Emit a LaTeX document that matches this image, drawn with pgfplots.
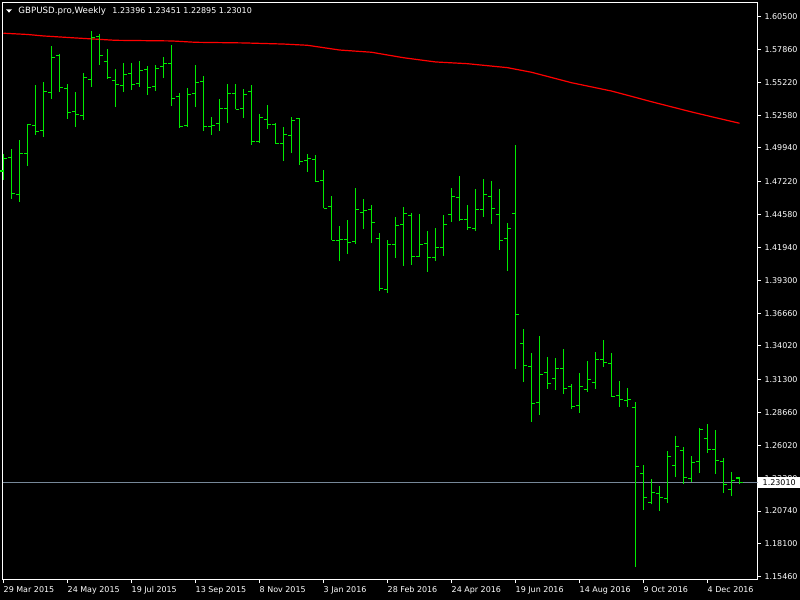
\documentclass[border=0pt]{standalone}
\usepackage{pgfplots}
\pgfplotsset{compat=1.18}
\usepackage{pgfplotstable}
\usepackage{fontspec}
\setmainfont{DejaVu Sans}

\definecolor{barg}{RGB}{0,235,0}
\definecolor{pline}{RGB}{119,136,153}

% open tick (left) and close tick (right) of an OHLC bar
\pgfdeclareplotmark{otick}{\pgfpathmoveto{\pgfpoint{-3.5bp}{0bp}}\pgfpathlineto{\pgfpoint{0bp}{0bp}}\pgfusepathqstroke}
\pgfdeclareplotmark{ctick}{\pgfpathmoveto{\pgfpoint{0bp}{0bp}}\pgfpathlineto{\pgfpoint{3.5bp}{0bp}}\pgfusepathqstroke}

% weekly bars, i = week index from 29 Mar 2015
\pgfplotstableread{
i  O      H      L      C
0  1.4809 1.4943 1.4739 1.4911
1  1.4919 1.4986 1.4586 1.4630
2  1.4622 1.5058 1.4562 1.4951
3  1.4951 1.5187 1.4852 1.5185
4  1.5177 1.5501 1.5101 1.5128
5  1.5136 1.5525 1.5085 1.5450
6  1.5442 1.5814 1.5391 1.5723
7  1.5740 1.5750 1.5447 1.5482
8  1.5474 1.5506 1.5230 1.5281
9  1.5289 1.5444 1.5165 1.5265
10 1.5257 1.5597 1.5222 1.5563
11 1.5547 1.5935 1.5487 1.5884
12 1.5889 1.5911 1.5664 1.5740
13 1.5691 1.5790 1.5551 1.5563
14 1.5539 1.5629 1.5326 1.5506
15 1.5498 1.5678 1.5447 1.5587
16 1.5595 1.5678 1.5463 1.5506
17 1.5514 1.5694 1.5487 1.5619
18 1.5627 1.5654 1.5423 1.5482
19 1.5490 1.5662 1.5455 1.5635
20 1.5651 1.5726 1.5559 1.5675
21 1.5675 1.5822 1.5334 1.5394
22 1.5410 1.5436 1.5157 1.5169
23 1.5177 1.5477 1.5165 1.5426
24 1.5434 1.5662 1.5326 1.5522
25 1.5530 1.5573 1.5133 1.5169
26 1.5169 1.5243 1.5101 1.5177
27 1.5193 1.5388 1.5133 1.5313
28 1.5313 1.5509 1.5198 1.5434
29 1.5434 1.5509 1.5305 1.5305
30 1.5313 1.5469 1.5238 1.5426
31 1.5450 1.5501 1.5021 1.5048
32 1.5048 1.5267 1.5037 1.5241
33 1.5225 1.5340 1.5149 1.5185
34 1.5185 1.5195 1.5029 1.5032
35 1.5032 1.5163 1.4892 1.5104
36 1.5096 1.5243 1.4956 1.5217
37 1.5233 1.5235 1.4860 1.4887
38 1.4895 1.4946 1.4803 1.4911
39 1.4903 1.4938 1.4723 1.4726
40 1.4734 1.4817 1.4509 1.4509
41 1.4525 1.4608 1.4252 1.4252
42 1.4252 1.4367 1.4085 1.4260
43 1.4260 1.4415 1.4144 1.4236
44 1.4244 1.4672 1.4224 1.4501
45 1.4477 1.4584 1.4345 1.4493
46 1.4501 1.4536 1.4232 1.4396
47 1.4268 1.4310 1.3846 1.3866
48 1.3858 1.4254 1.3830 1.4219
49 1.4219 1.4439 1.4112 1.4372
50 1.4380 1.4519 1.4047 1.4469
51 1.4453 1.4471 1.4055 1.4123
52 1.4123 1.4463 1.4120 1.4219
53 1.4228 1.4326 1.3999 1.4115
54 1.4115 1.4351 1.4088 1.4195
55 1.4195 1.4455 1.4128 1.4380
56 1.4461 1.4672 1.4401 1.4606
57 1.4597 1.4769 1.4409 1.4421
58 1.4421 1.4536 1.4337 1.4356
59 1.4348 1.4664 1.4329 1.4501
60 1.4501 1.4745 1.4441 1.4622
61 1.4606 1.4729 1.4385 1.4509
62 1.4461 1.4664 1.4176 1.4252
63 1.4268 1.4391 1.4007 1.4348
64 1.4469 1.5018 1.3219 1.3656
65 1.3423 1.3538 1.3114 1.3246
66 1.3238 1.3345 1.2793 1.2941
67 1.2949 1.3482 1.2849 1.3174
68 1.3190 1.3313 1.3058 1.3102
69 1.3142 1.3305 1.3050 1.3222
70 1.3222 1.3377 1.3018 1.3061
71 1.3077 1.3096 1.2897 1.2916
72 1.2925 1.3184 1.2865 1.3077
73 1.3053 1.3281 1.3034 1.3134
74 1.3110 1.3353 1.3058 1.3295
75 1.3295 1.3450 1.3235 1.3270
76 1.3262 1.3345 1.2994 1.2997
77 1.3005 1.3120 1.2913 1.2973
78 1.2965 1.3064 1.2913 1.2973
79 1.2908 1.2951 1.1626 1.2434
80 1.2378 1.2444 1.2085 1.2185
81 1.2144 1.2332 1.2128 1.2225
82 1.2217 1.2275 1.2077 1.2185
83 1.2176 1.2557 1.2141 1.2514
84 1.2442 1.2678 1.2350 1.2595
85 1.2563 1.2589 1.2294 1.2345
86 1.2337 1.2517 1.2310 1.2466
87 1.2474 1.2742 1.2382 1.2732
88 1.2659 1.2774 1.2543 1.2571
89 1.2571 1.2726 1.2374 1.2482
90 1.2474 1.2501 1.2221 1.2289
91 1.2249 1.2388 1.2197 1.2321
92 1.23396 1.23451 1.22895 1.23010
}\ohlc

\begin{document}
\begin{tikzpicture}
\useasboundingbox (0,0) rectangle (800bp,600bp);
\fill[black] (0,0) rectangle (800bp,600bp);
\begin{axis}[
    at={(2.5bp,20.5bp)}, anchor=south west,
    scale only axis, width=755bp, height=577bp,
    xmin=-0.125, xmax=94.25,
    ymin=1.15234, ymax=1.61642,
    axis line style={white, line width=1bp},
    xtick={0,8,...,88},
    xticklabels={29 Mar 2015,24 May 2015,19 Jul 2015,13 Sep 2015,8 Nov 2015,3 Jan 2016,28 Feb 2016,24 Apr 2016,19 Jun 2016,14 Aug 2016,9 Oct 2016,4 Dec 2016},
    ytick={1.60500,1.57860,1.55220,1.52580,1.49940,1.47220,1.44580,1.41940,1.39300,1.36660,1.34020,1.31300,1.28660,1.26020,1.23380,1.20740,1.18100,1.15460},
    yticklabels={1.60500,1.57860,1.55220,1.52580,1.49940,1.47220,1.44580,1.41940,1.39300,1.36660,1.34020,1.31300,1.28660,1.26020,1.23380,1.20740,1.18100,1.15460},
    xtick pos=bottom, ytick pos=right, yticklabel pos=right,
    tick align=outside, major tick length=3.5bp,
    tick style={white, line width=1bp},
    tick label style={white, font=\fontsize{8}{9.6}\selectfont},
    xticklabel style={anchor=north west, inner xsep=0pt},
]
% current price line
\addplot[pline, line width=1bp] coordinates {(-0.125,1.2301) (94.25,1.2301)};
% moving average
\addplot[red, line width=1.2bp] coordinates {
    (0,1.5917) (3,1.5907) (5,1.5895) (9,1.5879) (14,1.5860) (21,1.5855)
    (24,1.5844) (30,1.5839) (35,1.5830) (38,1.5820) (42,1.5782) (46,1.5764)
    (50,1.5720) (54,1.5686) (58,1.5672) (63,1.5640) (66,1.5603) (71,1.5519)
    (76,1.5452) (78,1.5418) (81,1.5366) (86,1.5284) (89,1.5238) (92,1.5193)
};
% high-low lines, drawn as error bars from the low up to the high
\addplot[barg, line width=1.2bp, only marks, mark=none, mark size=0pt,
    error bars/y dir=plus, error bars/y explicit, error bars/error mark=none,
    error bars/error bar style={barg, line width=1.2bp}]
    table[x=i, y=L, y error expr=\thisrow{H}-\thisrow{L}] {\ohlc};
% open and close ticks
\addplot[barg, only marks, mark=otick, mark options={line width=1.1bp}] table[x=i, y=O] {\ohlc};
\addplot[barg, only marks, mark=ctick, mark options={line width=1.1bp}] table[x=i, y=C] {\ohlc};
\end{axis}
% current price label
\node[fill=white, text=black, anchor=west, inner sep=0pt, minimum width=43bp, minimum height=11bp,
      font=\fontsize{8}{9.6}\selectfont] at (757.5bp,117.3bp) {1.23010};
% chart title
\fill[white] (6bp,590.7bp) -- (12bp,590.7bp) -- (9bp,587.4bp) -- cycle;
\node[fill=black, text=white, anchor=west, inner sep=1bp]
    at (17.3bp,589bp) {\fontsize{8.7}{10}\selectfont GBPUSD.pro,Weekly\hspace{6.6bp}\fontsize{8}{10}\selectfont 1.23396 1.23451 1.22895 1.23010};
\end{tikzpicture}
\end{document}
